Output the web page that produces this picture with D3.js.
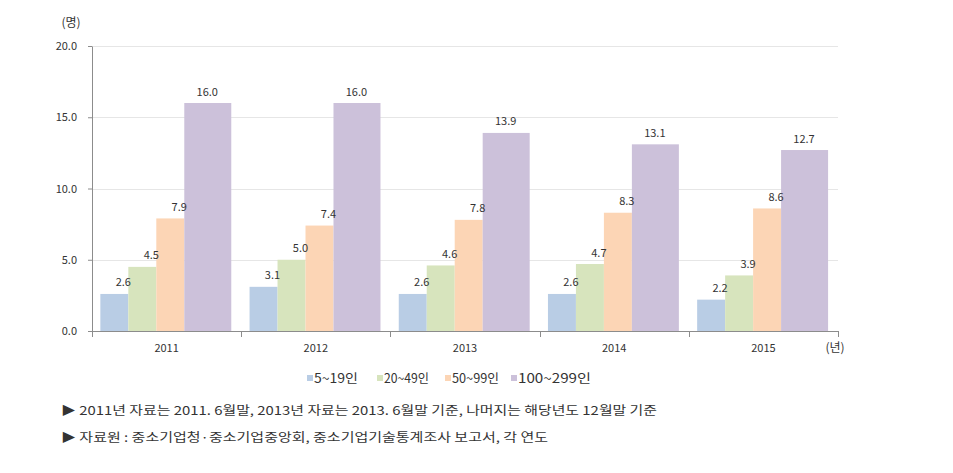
<!DOCTYPE html>
<html><head><meta charset="utf-8">
<script src="https://cdn.jsdelivr.net/npm/d3@7"></script>
<style>
body{margin:0;background:#fff;}
text{font-family:"Noto Sans CJK KR","Noto Sans",sans-serif;}
</style></head>
<body>
<svg id="c" width="953" height="473"></svg>
<script>
const years = ["2011","2012","2013","2014","2015"];
const seriesNames = ["5~19인","20~49인","50~99인","100~299인"];
const s5_19 = [2.6, 3.1, 2.6, 2.6, 2.2];
const s20_49 = [4.5, 5.0, 4.6, 4.7, 3.9];
const s50_99 = [7.9, 7.4, 7.8, 8.3, 8.6];
const s100_299 = [16.0, 16.0, 13.9, 13.1, 12.7];
const yTicks = [0, 5, 10, 15, 20];
const colors = ["#b9cde5","#d7e4bd","#fcd5b5","#ccc1da"];
const notes = ["▶ 2011년 자료는 2011. 6월말, 2013년 자료는 2013. 6월말 기준, 나머지는 해당년도 12월말 기준",
               "▶ 자료원 : 중소기업청·중소기업중앙회, 중소기업기술통계조사 보고서, 각 연도"];

(function(){
const allSeries = [s5_19, s20_49, s50_99, s100_299];
const svg = d3.select("#c");
const pLeft = 92, pRight = 838, pTop = 46, pBottom = 331;
const y = d3.scaleLinear().domain([0,20]).range([pBottom, pTop]);
const x = d3.scaleBand().domain(years).range([pLeft, pRight]).padding(0);
const bw = x.bandwidth();
const unit = bw*0.1875, pad = bw*0.056;

// gridlines
svg.append("g").selectAll("line").data(yTicks.filter(d=>d>0)).join("line")
  .attr("x1", pLeft).attr("x2", pRight).attr("y1", d=>Math.round(y(d))+0.5).attr("y2", d=>Math.round(y(d))+0.5)
  .attr("stroke", "#e6e6e6").attr("stroke-width",1);

// bars
const labels = [];
years.forEach((yr, gi) => {
  allSeries.forEach((s, si) => {
    const x0 = x(yr) + pad + si*unit;
    const w = si===3 ? unit*1.68 : unit;
    svg.append("rect").attr("x", x0).attr("y", y(s[gi])).attr("width", w)
      .attr("height", y(0)-y(s[gi])).attr("fill", colors[si]);
    labels.push({x: x0 + unit*0.82, v: s[gi]});
  });
});
svg.append("g").selectAll("text").data(labels).join("text")
  .attr("x", d=>d.x).attr("y", d=>y(d.v) - 7.5)
  .attr("text-anchor","middle").attr("font-size",11).attr("fill","#333")
  .text(d=>d3.format(".1f")(d.v));

// y axis
const ya = svg.append("g").attr("transform",`translate(${pLeft},0)`)
  .call(d3.axisLeft(y).tickValues(yTicks).tickFormat(d3.format(".1f")).tickSize(4).tickPadding(11).tickSizeOuter(0));
ya.select(".domain").attr("stroke","#8c8c8c");
ya.selectAll(".tick line").attr("stroke","#8c8c8c");
ya.selectAll("text").attr("font-size",11).attr("fill","#333").style("font-family",'"Noto Sans CJK KR",sans-serif');

// x axis
const xa = svg.append("g").attr("transform",`translate(0,${pBottom})`);
xa.append("line").attr("x1",pLeft).attr("x2",pRight).attr("y1",0.5).attr("y2",0.5).attr("stroke","#8c8c8c");
const bounds = years.map(d=>x(d)).concat([pRight]);
xa.selectAll("line.tk").data(bounds).join("line").attr("class","tk")
  .attr("x1",d=>Math.round(d)+0.5).attr("x2",d=>Math.round(d)+0.5).attr("y1",0).attr("y2",6).attr("stroke","#8c8c8c");
xa.selectAll("text.yl").data(years).join("text").attr("class","yl")
  .attr("x", d=>x(d)+bw/2).attr("y", 21).attr("text-anchor","middle")
  .attr("font-size",11).attr("fill","#333").text(d=>d);

// unit labels
svg.append("text").attr("x",71).attr("y",27).attr("text-anchor","middle").attr("font-size",12).attr("fill","#333").text("(명)");
svg.append("text").attr("x",835).attr("y",352).attr("text-anchor","middle").attr("font-size",12).attr("fill","#333").text("(년)");

// legend
const legX = [307, 377, 445, 511];
const legW = [44, 45, 47, 73];
const lg = svg.append("g");
seriesNames.forEach((n,i)=>{
  lg.append("rect").attr("x",legX[i]).attr("y",375).attr("width",6).attr("height",6).attr("fill",colors[i]);
  lg.append("text").attr("x",legX[i]+7).attr("y",383).attr("font-size",12.5).attr("fill","#333")
    .attr("textLength",legW[i]).attr("lengthAdjust","spacingAndGlyphs").text(n);
});

// notes
const noteLen = [596, 487];
notes.forEach((n,i)=>{
  svg.append("text").attr("x",61).attr("y",415+i*26.5).attr("font-size",12).attr("fill","#333")
    .attr("textLength",noteLen[i]).attr("lengthAdjust","spacingAndGlyphs").text(n);
});
})();
</script>
</body></html>
